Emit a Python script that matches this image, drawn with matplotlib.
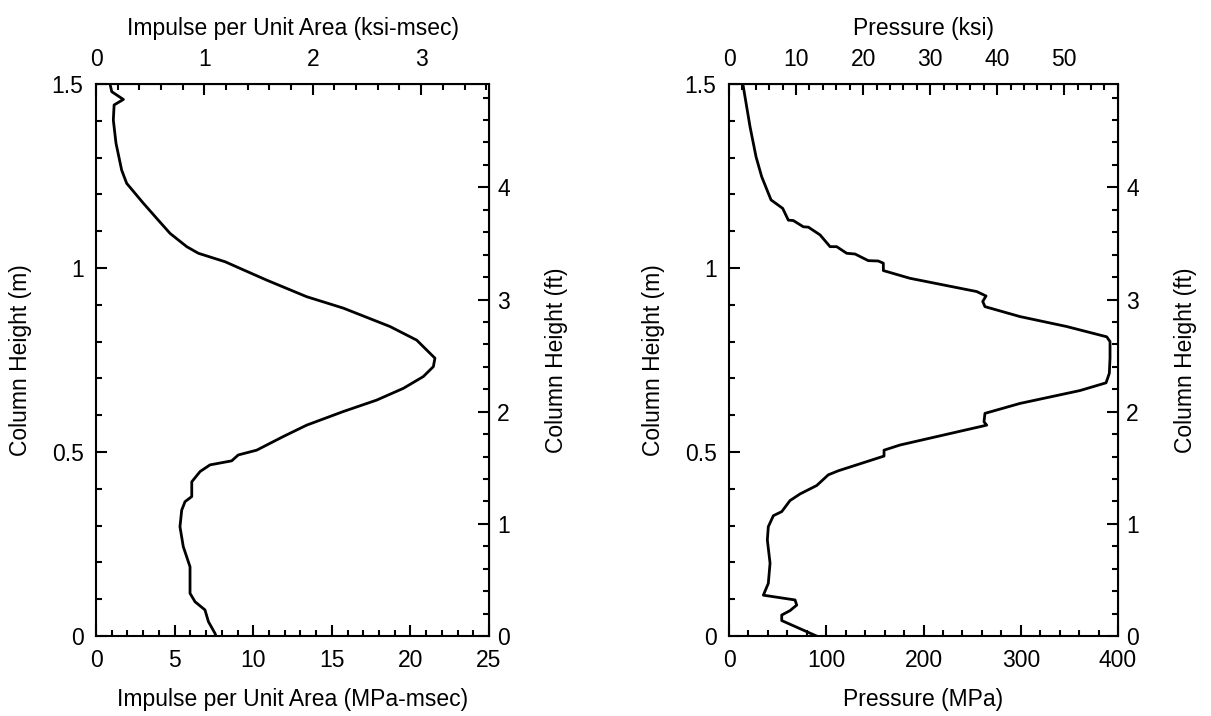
import numpy as np
import matplotlib.pyplot as plt
from matplotlib.ticker import MultipleLocator, FormatStrFormatter

plt.rcParams['font.family'] = ['Liberation Sans', 'DejaVu Sans']
plt.rcParams['font.size'] = 16.5

# impulse profile (MPa-msec vs column height m)
imp_x = [0.89, 1.0, 1.74, 1.15, 1.10, 1.27, 1.63, 1.95, 2.48, 3.01, 3.96, 4.71, 5.77, 6.51,
         8.21, 9.16, 10.86, 13.40, 15.73, 18.70, 20.40, 21.56, 21.46, 20.82, 19.55, 17.85,
         15.73, 13.40, 11.91, 10.22, 9.05, 8.63, 7.25, 6.62, 6.09, 6.09, 5.66, 5.45, 5.34,
         5.55, 5.98, 5.98, 6.30, 6.93, 7.15, 7.57, 7.63]
imp_y = [1.500, 1.479, 1.458, 1.443, 1.402, 1.339, 1.266, 1.230, 1.203, 1.176, 1.130, 1.094,
         1.058, 1.040, 1.017, 0.999, 0.967, 0.922, 0.891, 0.841, 0.804, 0.755, 0.732, 0.705,
         0.673, 0.641, 0.610, 0.573, 0.542, 0.505, 0.492, 0.476, 0.465, 0.447, 0.419, 0.379,
         0.365, 0.342, 0.297, 0.243, 0.188, 0.116, 0.093, 0.071, 0.039, 0.007, 0.0]

# peak pressure profile (MPa vs column height m)
pr_x = [14.1, 21.6, 27.8, 33.6, 43.2, 55.2, 61.0, 66.1, 76.4, 81.6, 93.6, 103.9, 110.7, 121.0,
        129.6, 143.2, 153.5, 158.7, 158.7, 186.1, 254.7, 264.3, 260.9, 263.2, 299.2, 347.2,
        388.4, 391.8, 391.8, 391.1, 387.7, 360.9, 299.2, 263.2, 262.2, 265.0, 220.4, 175.8,
        159.4, 159.4, 112.4, 102.1, 90.2, 73.0, 62.7, 54.2, 45.6, 40.4, 39.4, 42.2, 40.4,
        35.3, 67.9, 69.6, 62.7, 54.2, 54.2, 90.0]
pr_y = [1.502, 1.384, 1.302, 1.248, 1.185, 1.162, 1.130, 1.129, 1.112, 1.111, 1.090, 1.058,
        1.058, 1.040, 1.038, 1.020, 1.019, 1.013, 0.993, 0.972, 0.936, 0.924, 0.909, 0.895,
        0.868, 0.841, 0.813, 0.800, 0.755, 0.714, 0.688, 0.667, 0.632, 0.605, 0.582, 0.573,
        0.546, 0.519, 0.505, 0.489, 0.449, 0.438, 0.409, 0.386, 0.368, 0.338, 0.327, 0.297,
        0.261, 0.198, 0.143, 0.111, 0.098, 0.084, 0.069, 0.057, 0.042, 0.0]

KSI = 0.1450377   # ksi per MPa
FT = 3.28084      # ft per m


def style(a, pad):
    a.tick_params(which='both', direction='in', width=1.5, pad=pad)
    a.tick_params(which='major', length=8)
    a.tick_params(which='minor', length=4.5)


fig = plt.figure(figsize=(12.11, 7.16), dpi=100)
panels = [
    ([0.0793, 0.1117, 0.3245, 0.771], imp_x, imp_y, 25, 5, 1, 1, 0.2,
     'Impulse per Unit Area (MPa-msec)', 'Impulse per Unit Area (ksi-msec)'),
    ([0.602, 0.1117, 0.3212, 0.771], pr_x, pr_y, 400, 100, 20, 10, 2,
     'Pressure (MPa)', 'Pressure (ksi)'),
]
for rect, xs, ys, xmax, maj, mnr, tmaj, tmnr, xlab, tlab in panels:
    ax = fig.add_axes(rect)
    ax.plot(xs, ys, color='black', lw=2)
    ax.set_xlim(0, xmax)
    ax.set_ylim(0, 1.5)
    ax.xaxis.set_major_locator(MultipleLocator(maj))
    ax.xaxis.set_minor_locator(MultipleLocator(mnr))
    ax.xaxis.set_major_formatter(FormatStrFormatter('%d'))
    ax.yaxis.set_major_locator(MultipleLocator(0.5))
    ax.yaxis.set_minor_locator(MultipleLocator(0.1))
    ax.yaxis.set_major_formatter(FormatStrFormatter('%g'))
    ax.set_xlabel(xlab, labelpad=12)
    ax.set_ylabel('Column Height (m)', labelpad=14)
    for s in ax.spines.values():
        s.set_linewidth(1.5)
    style(ax, 9)

    top = ax.secondary_xaxis('top', functions=(lambda v: v * KSI, lambda v: v / KSI))
    top.xaxis.set_major_locator(MultipleLocator(tmaj))
    top.xaxis.set_minor_locator(MultipleLocator(tmnr))
    top.xaxis.set_major_formatter(FormatStrFormatter('%d'))
    top.set_xlabel(tlab, labelpad=10)
    style(top, 9)

    right = ax.secondary_yaxis('right', functions=(lambda v: v * FT, lambda v: v / FT))
    right.yaxis.set_major_locator(MultipleLocator(1))
    right.yaxis.set_minor_locator(MultipleLocator(0.2))
    right.yaxis.set_major_formatter(FormatStrFormatter('%d'))
    right.set_ylabel('Column Height (ft)', labelpad=25)
    style(right, 6)

fig.savefig('out.png', dpi=100)
